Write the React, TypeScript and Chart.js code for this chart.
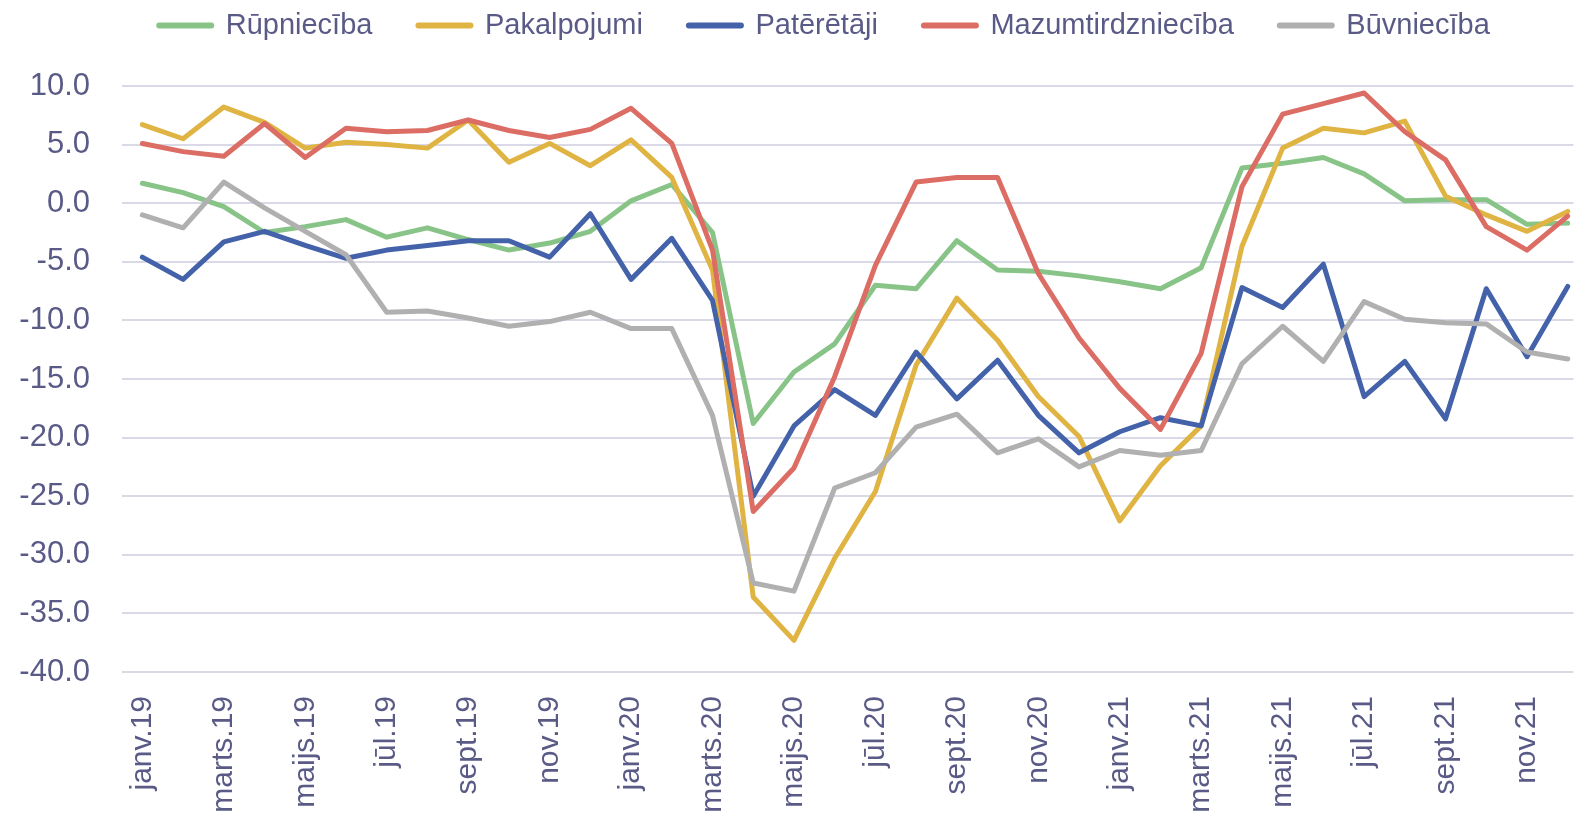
import React, { useEffect, useRef } from "react";
import { Chart, registerables } from "chart.js";

Chart.register(...registerables);

const monthLabels = [
  "janv.19", "febr.19", "marts.19", "apr.19", "maijs.19", "jūn.19", "jūl.19", "aug.19", "sept.19", "okt.19", "nov.19", "dec.19",
  "janv.20", "febr.20", "marts.20", "apr.20", "maijs.20", "jūn.20", "jūl.20", "aug.20", "sept.20", "okt.20", "nov.20", "dec.20",
  "janv.21", "febr.21", "marts.21", "apr.21", "maijs.21", "jūn.21", "jūl.21", "aug.21", "sept.21", "okt.21", "nov.21", "dec.21",
];

const rupnieciba = [1.7, 0.9, -0.3, -2.5, -2.0, -1.4, -2.9, -2.1, -3.1, -4.0, -3.4, -2.4, 0.2, 1.6, -2.5, -18.8, -14.4, -12.0, -7.0, -7.3, -3.2, -5.7, -5.8, -6.2, -6.7, -7.3, -5.5, 3.0, 3.4, 3.9, 2.5, 0.2, 0.3, 0.3, -1.8, -1.7];
const pakalpojumi = [6.7, 5.5, 8.2, 6.9, 4.7, 5.2, 5.0, 4.7, 7.1, 3.5, 5.1, 3.2, 5.4, 2.2, -5.7, -33.6, -37.3, -30.3, -24.6, -13.8, -8.1, -11.7, -16.5, -19.9, -27.1, -22.4, -19.0, -3.7, 4.7, 6.4, 6.0, 7.0, 0.6, -1.0, -2.4, -0.7];
const pateretaji = [-4.6, -6.5, -3.3, -2.4, -3.6, -4.7, -4.0, -3.6, -3.2, -3.2, -4.6, -0.9, -6.5, -3.0, -8.3, -25.0, -19.0, -15.9, -18.1, -12.7, -16.7, -13.4, -18.1, -21.3, -19.5, -18.3, -19.0, -7.2, -8.9, -5.2, -16.5, -13.5, -18.4, -7.3, -13.1, -7.1];
const mazumtirdznieciba = [5.1, 4.4, 4.0, 6.8, 3.9, 6.4, 6.1, 6.2, 7.1, 6.2, 5.6, 6.3, 8.1, 5.1, -4.0, -26.3, -22.6, -14.8, -5.3, 1.8, 2.2, 2.2, -6.0, -11.5, -15.8, -19.3, -12.8, 1.4, 7.6, 8.5, 9.4, 6.1, 3.7, -2.0, -4.0, -1.1];
const buvnieciba = [-1.0, -2.1, 1.8, -0.4, -2.4, -4.4, -9.3, -9.2, -9.8, -10.5, -10.1, -9.3, -10.7, -10.7, -18.1, -32.4, -33.1, -24.3, -23.0, -19.1, -18.0, -21.3, -20.1, -22.5, -21.1, -21.5, -21.1, -13.7, -10.5, -13.5, -8.4, -9.9, -10.2, -10.3, -12.7, -13.3];

const seriesNames = ["Rūpniecība", "Pakalpojumi", "Patērētāji", "Mazumtirdzniecība", "Būvniecība"];
const seriesValues = [rupnieciba, pakalpojumi, pateretaji, mazumtirdznieciba, buvnieciba];
const seriesColors = ["#88C487", "#E0B443", "#4462A9", "#DC6D65", "#B0B0B0"];

const yTicks = [10, 5, 0, -5, -10, -15, -20, -25, -30, -35, -40];

const TEXT = "#5A5A87";
const GRID = "#D9D9E7";
const FONT = "'Liberation Sans', Arial, sans-serif";
const LEGEND_DX = 31;
const LEGEND_DY = -36;

const legendShift = {
  id: "legendShift",
  afterLayout(chart: any) {
    const lg = chart.legend;
    if (!lg) return;
    lg.left += LEGEND_DX;
    lg.right += LEGEND_DX;
    lg.top += LEGEND_DY;
    lg.bottom += LEGEND_DY;
  },
};

export default function App() {
  const ref = useRef<HTMLCanvasElement | null>(null);

  useEffect(() => {
    if (!ref.current) return;
    const n = seriesNames.length;
    const chart = new Chart(ref.current, {
      type: "line",
      data: {
        datasets: seriesNames.map((name, s) => ({
          label: name,
          data: seriesValues[s].map((v, i) => ({ x: i, y: v })),
          borderColor: seriesColors[s],
          backgroundColor: seriesColors[s],
          borderWidth: 5,
          pointRadius: 0,
          tension: 0,
          borderJoinStyle: "round" as const,
          borderCapStyle: "round" as const,
          fill: false,
          order: n - 1 - s,
        })),
      },
      options: {
        animation: false,
        responsive: false,
        maintainAspectRatio: false,
        layout: { padding: { top: 1, left: 0, right: 0, bottom: 0 } },
        plugins: {
          tooltip: { enabled: false },
          legend: {
            position: "top",
            align: "center",
            labels: {
              usePointStyle: true,
              pointStyle: "line",
              pointStyleWidth: 52,
              padding: 46,
              color: TEXT,
              font: { family: FONT, size: 29 },
              generateLabels(chart: any) {
                const items = Chart.defaults.plugins.legend.labels.generateLabels(chart);
                items.sort((a: any, b: any) => a.datasetIndex - b.datasetIndex);
                items.forEach((it: any) => {
                  it.lineWidth = 6;
                  it.lineCap = "round";
                  it.pointStyle = "line";
                });
                return items;
              },
            },
          },
        },
        scales: {
          x: {
            type: "linear",
            min: -0.5,
            max: 35.14,
            grid: { display: false, drawTicks: false },
            border: { display: false },
            afterBuildTicks(scale: any) {
              scale.ticks = monthLabels
                .map((_, i) => i)
                .filter((i) => i % 2 === 0)
                .map((i) => ({ value: i }));
            },
            afterFit(scale: any) {
              scale.height = 146;
            },
            ticks: {
              autoSkip: false,
              minRotation: 90,
              maxRotation: 90,
              padding: 24,
              color: TEXT,
              font: { family: FONT, size: 30 },
              callback: (v: any) => monthLabels[Math.round(Number(v))] ?? "",
            },
          },
          y: {
            type: "linear",
            min: -40,
            max: 10,
            afterBuildTicks(scale: any) {
              scale.ticks = yTicks.map((v) => ({ value: v }));
            },
            afterFit(scale: any) {
              scale.width = 122;
            },
            grid: { color: GRID, lineWidth: 2, drawTicks: false },
            border: { display: false },
            ticks: {
              padding: 32,
              color: TEXT,
              font: { family: FONT, size: 31 },
              callback: (v: any) => Number(v).toFixed(1),
            },
          },
        },
      },
      plugins: [legendShift],
    } as any);
    return () => chart.destroy();
  }, []);

  return (
    <div style={{ position: "fixed", left: 0, top: 0, width: 1587, height: 818, background: "#fff" }}>
      <canvas ref={ref} width={1587} height={818} style={{ display: "block", width: 1587, height: 818 }} />
    </div>
  );
}
